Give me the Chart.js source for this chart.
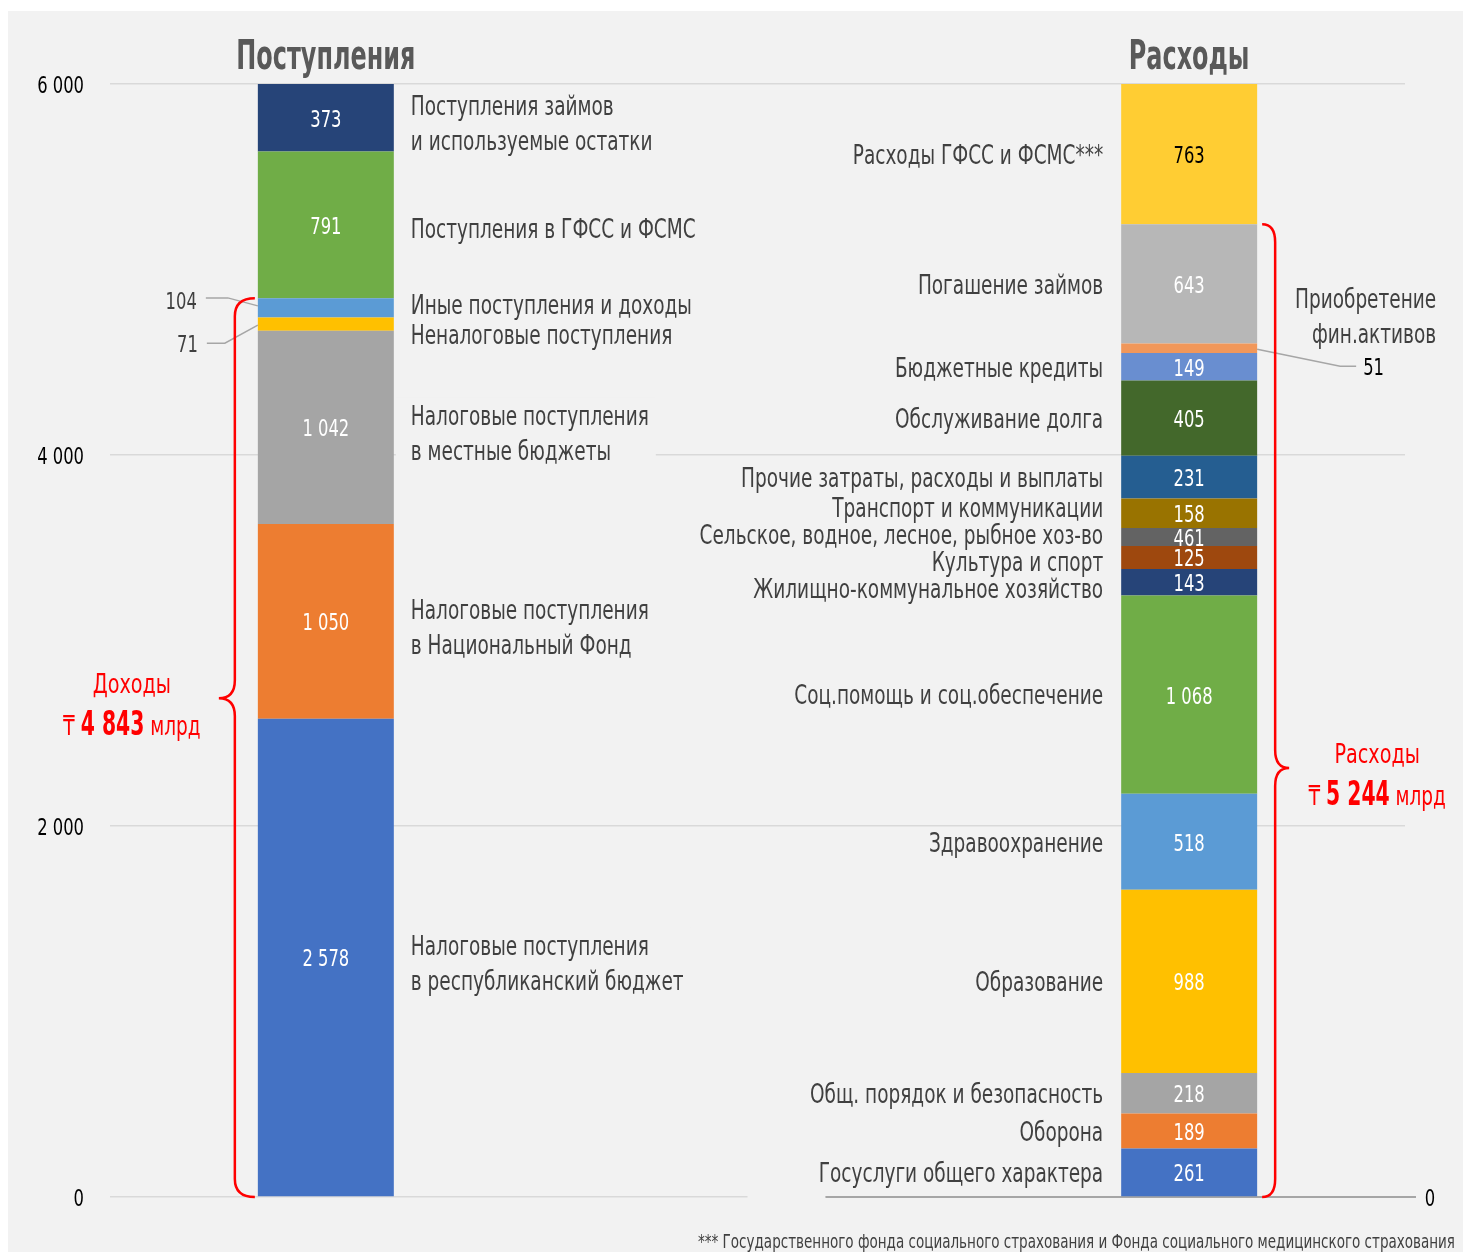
<!DOCTYPE html>
<html lang="ru">
<head>
<meta charset="utf-8">
<title>Поступления и расходы</title>
<script src="https://cdn.jsdelivr.net/npm/chart.js@4.4.0/dist/chart.umd.min.js"></script>
<style>
  html, body { margin: 0; padding: 0; background: #ffffff; }
  #wrap { width: 1464px; height: 1252px; }
</style>
</head>
<body>
<div id="wrap"><canvas id="budget-chart" width="1464" height="1252"></canvas></div>
<script>
// Chart data (values in billions of tenge)
const categories = ['Поступления', '', 'Расходы'];

const incomeNames = [
  'Налоговые поступления\nв республиканский бюджет',
  'Налоговые поступления\nв Национальный Фонд',
  'Налоговые поступления\nв местные бюджеты',
  'Неналоговые поступления',
  'Иные поступления и доходы',
  'Поступления в ГФСС и ФСМС',
  'Поступления займов\nи используемые остатки'
];
const incomeValues = [2578, 1050, 1042, 71, 104, 791, 373];
const incomeColors = ['#4472c4', '#ed7d31', '#a5a5a5', '#ffc000', '#5b9bd5', '#70ad47', '#264478'];

const spendNames = [
  'Госуслуги общего характера',
  'Оборона',
  'Общ. порядок и безопасность',
  'Образование',
  'Здравоохранение',
  'Соц.помощь и соц.обеспечение',
  'Жилищно-коммунальное хозяйство',
  'Культура и спорт',
  'Сельское, водное, лесное, рыбное хоз-во',
  'Транспорт и коммуникации',
  'Прочие затраты, расходы и выплаты',
  'Обслуживание долга',
  'Бюджетные кредиты',
  'Приобретение\nфин.активов',
  'Погашение займов',
  'Расходы ГФСС и ФСМС***'
];
const spendValues = [261, 189, 218, 988, 518, 1068, 143, 125, 97, 158, 231, 405, 149, 51, 643, 763];
const spendValueLabels = ['261', '189', '218', '988', '518', '1 068', '143', '125', '461', '158', '231', '405', '149', '51', '643', '763'];
const spendColors = ['#4472c4', '#ed7d31', '#a5a5a5', '#ffc000', '#5b9bd5', '#70ad47', '#264478', '#9e480e',
  '#636363', '#997300', '#255e91', '#43682b', '#698ed0', '#f1975a', '#b7b7b7', '#ffcd33'];

const yTicks = [0, 2000, 4000, 6000];
const incomeTotal = 4843;   // Доходы (без займов и ГФСС)
const spendTotal = 5244;    // Расходы (без ГФСС и ФСМС)
const footnote = '*** Государственного фонда социального страхования и Фонда социального медицинского страхования';

const FONT = '"DejaVu Sans Condensed", "DejaVu Sans", sans-serif';
const PANEL = '#f2f2f2';
const TEXT = '#404040';
const RED = '#ff0000';

function fmt(v) {
  return String(v).replace(/\B(?=(\d{3})+(?!\d))/g, ' ');
}
function font(size, weight) {
  return (weight || 'normal') + ' ' + size + 'px ' + FONT;
}

// The original uses a narrow DIN-like face: squeeze text horizontally to match its widths
const probe = document.createElement('canvas').getContext('2d');
probe.font = font(26);
const SX = 238 / probe.measureText('Налоговые поступления').width;
probe.font = font(40, 'bold');
const SXB = 179 / probe.measureText('Поступления').width;

function textWidth(ctx, str, size, weight) {
  ctx.save();
  ctx.font = font(size, weight);
  const w = ctx.measureText(str).width * (weight === 'bold' ? SXB : SX);
  ctx.restore();
  return w;
}

function text(ctx, str, x, y, o) {
  ctx.save();
  ctx.font = font(o.size, o.weight);
  ctx.fillStyle = o.color || TEXT;
  ctx.textAlign = o.align || 'left';
  ctx.textBaseline = o.baseline || 'middle';
  ctx.translate(x, y + (ctx.textBaseline === 'middle' ? 3 : 0));
  ctx.scale(o.weight === 'bold' ? SXB : SX, 1);
  ctx.fillText(str, 0, 0);
  ctx.restore();
}

// Build datasets: income stacks on the first category, spending on the third
const datasets = [];
incomeValues.forEach((v, i) => {
  datasets.push({ label: incomeNames[i], data: [v, null, null], backgroundColor: incomeColors[i], side: 'income', idx: i });
});
spendValues.forEach((v, i) => {
  datasets.push({ label: spendNames[i], data: [null, null, v], backgroundColor: spendColors[i], side: 'spend', idx: i });
});

// Geometry of each stacked segment
function segments(chart, side) {
  const out = [];
  const area = chart.chartArea;
  chart.data.datasets.forEach((ds, di) => {
    if (ds.side !== side) return;
    const el = chart.getDatasetMeta(di).data[side === 'income' ? 0 : 2];
    const top = Math.max(el.y, area.top);
    out.push({ idx: ds.idx, x: el.x, w: el.width, top: top, bottom: el.base, cy: (top + el.base) / 2 });
  });
  return out;
}

// Push overlapping labels apart
function spread(items) {
  items.sort((a, b) => b.y - a.y);
  for (let k = 0; k < 80; k++) {
    for (let i = 1; i < items.length; i++) {
      const a = items[i - 1], b = items[i];
      const need = (a.h + b.h) / 2;
      const d = a.y - b.y;
      if (d < need) {
        const m = (need - d) / 2;
        a.y += m;
        b.y -= m;
      }
    }
  }
}

function brace(ctx, xEnd, xLine, xTip, yTop, yBot, yTip) {
  const r = 18;
  ctx.beginPath();
  ctx.moveTo(xEnd, yTop);
  ctx.quadraticCurveTo(xLine, yTop, xLine, yTop + r);
  ctx.lineTo(xLine, yTip - r);
  ctx.quadraticCurveTo(xLine, yTip, xTip, yTip);
  ctx.quadraticCurveTo(xLine, yTip, xLine, yTip + r);
  ctx.lineTo(xLine, yBot - r);
  ctx.quadraticCurveTo(xLine, yBot, xEnd, yBot);
  ctx.stroke();
}

function totalText(ctx, cx, yTip, title, total) {
  text(ctx, title, cx, yTip - 5, { size: 27, color: RED, align: 'center', baseline: 'alphabetic' });
  const parts = [['₸ ', 26, 'normal'], [fmt(total), 34, 'bold'], [' млрд', 26, 'normal']];
  let w = 0;
  parts.forEach(p => { w += textWidth(ctx, p[0], p[1], p[2]); });
  let x = cx - w / 2;
  parts.forEach(p => {
    text(ctx, p[0], x, yTip + 37, { size: p[1], weight: p[2], color: RED, baseline: 'alphabetic' });
    x += textWidth(ctx, p[0], p[1], p[2]);
  });
}

function leader(ctx, pts) {
  ctx.beginPath();
  ctx.moveTo(pts[0][0], pts[0][1]);
  for (let i = 1; i < pts.length; i++) ctx.lineTo(pts[i][0], pts[i][1]);
  ctx.stroke();
}

const annotate = {
  id: 'annotate',
  beforeDraw(chart) {
    const ctx = chart.ctx;
    ctx.save();
    ctx.fillStyle = '#ffffff';
    ctx.fillRect(0, 0, chart.width, chart.height);
    ctx.fillStyle = PANEL;
    ctx.fillRect(8, 11, chart.width - 9, chart.height - 11);
    ctx.restore();
  },
  beforeDatasetsDraw(chart) {
    const ctx = chart.ctx;
    const area = chart.chartArea;
    const mid = chart.scales.x.getPixelForValue(1);
    ctx.save();
    ctx.fillStyle = PANEL;
    ctx.fillRect(mid - 10, area.bottom - 3, 78, 6);
    ctx.strokeStyle = '#a6a6a6';
    ctx.lineWidth = 2;
    ctx.beginPath();
    ctx.moveTo(mid + 68, area.bottom);
    ctx.lineTo(area.right + 11, area.bottom);
    ctx.stroke();
    ctx.restore();
  },
  afterDatasetsDraw(chart) {
    const ctx = chart.ctx;
    const area = chart.chartArea;
    const y = chart.scales.y;
    const inc = segments(chart, 'income');
    const spd = segments(chart, 'spend');
    const incLeft = inc[0].x - inc[0].w / 2, incRight = inc[0].x + inc[0].w / 2;
    const spdLeft = spd[0].x - spd[0].w / 2, spdRight = spd[0].x + spd[0].w / 2;
    ctx.save();

    // y tick labels
    yTicks.forEach(v => {
      text(ctx, fmt(v), area.left - 26, y.getPixelForValue(v), { size: 23, color: '#000000', align: 'right' });
    });

    // column titles
    text(ctx, categories[0], inc[0].x, 69, { size: 40, weight: 'bold', color: '#595959', align: 'center', baseline: 'alphabetic' });
    text(ctx, categories[2], spd[0].x, 69, { size: 40, weight: 'bold', color: '#595959', align: 'center', baseline: 'alphabetic' });

    // values inside bars
    inc.forEach(s => {
      if (s.idx === 3 || s.idx === 4) return;
      text(ctx, fmt(incomeValues[s.idx]), s.x, s.cy, { size: 23, color: '#ffffff', align: 'center' });
    });
    spd.forEach(s => {
      if (s.idx === 13) return;
      text(ctx, spendValueLabels[s.idx], s.x, s.cy, { size: 23, color: s.idx === 15 ? '#000000' : '#ffffff', align: 'center' });
    });

    // series names
    const lh = 35;
    const incItems = inc.map(s => {
      const lines = incomeNames[s.idx].split('\n');
      const multi = lines.length > 1;
      return { lines: lines, y: s.cy + (multi ? 5 : 3), h: multi ? lines.length * lh : 30 };
    });
    spread(incItems);
    incItems.forEach(it => {
      let wMax = 0;
      it.lines.forEach(l => { wMax = Math.max(wMax, textWidth(ctx, l, 26)); });
      ctx.fillStyle = PANEL;
      ctx.fillRect(incRight + 2, it.y - it.lines.length * lh / 2, wMax + 22, it.lines.length * lh);
      it.lines.forEach((l, k) => {
        text(ctx, l, incRight + 17, it.y + (k - (it.lines.length - 1) / 2) * lh, { size: 26 });
      });
    });

    const spdItems = spd.filter(s => s.idx !== 13).map(s => {
      return { lines: [spendNames[s.idx]], y: s.cy, h: 27 };
    });
    spread(spdItems);
    spdItems.forEach(it => text(ctx, it.lines[0], spdLeft - 18, it.y, { size: 26, align: 'right' }));

    // outside labels with leader lines
    ctx.strokeStyle = '#a6a6a6';
    ctx.lineWidth = 1.5;
    const s104 = inc.find(s => s.idx === 4);
    const s71 = inc.find(s => s.idx === 3);
    const s51 = spd.find(s => s.idx === 13);
    leader(ctx, [[incLeft, s104.cy - 2], [incLeft - 30, s104.cy - 10], [incLeft - 52, s104.cy - 10]]);
    leader(ctx, [[incLeft, s71.cy + 1], [incLeft - 33, s71.cy + 19], [incLeft - 51, s71.cy + 19]]);
    leader(ctx, [[spdRight, s51.cy + 1], [spdRight + 83, s51.cy + 18], [spdRight + 99, s51.cy + 18]]);
    text(ctx, fmt(incomeValues[4]), incLeft - 61, s104.cy - 8, { size: 23, align: 'right' });
    text(ctx, fmt(incomeValues[3]), incLeft - 60, s71.cy + 19, { size: 23, align: 'right' });
    text(ctx, spendValueLabels[13], spdRight + 106, s51.cy + 18, { size: 23, color: '#000000' });
    spendNames[13].split('\n').forEach((l, k) => {
      text(ctx, l, spdRight + 179, s51.cy - 50 + k * lh, { size: 26, align: 'right' });
    });

    // braces with totals
    let incSum = 0;
    for (let i = 0; i <= 4; i++) incSum += incomeValues[i];
    let spdSum = 0;
    for (let i = 0; i <= 14; i++) spdSum += spendValues[i];
    ctx.strokeStyle = RED;
    ctx.lineWidth = 2.5;
    const lTop = y.getPixelForValue(incSum), lTip = lTop + 0.445 * (area.bottom - lTop);
    brace(ctx, incLeft - 3, incLeft - 23, incLeft - 39, lTop, area.bottom, lTip);
    const rTop = y.getPixelForValue(spdSum), rTip = rTop + 0.559 * (area.bottom - rTop);
    brace(ctx, spdRight + 5, spdRight + 18, spdRight + 32, rTop, area.bottom, rTip);
    totalText(ctx, incLeft - 126, lTip, 'Доходы', incomeTotal);
    totalText(ctx, spdRight + 120, rTip, 'Расходы', spendTotal);

    // right-hand zero and footnote
    text(ctx, '0', area.right + 25, area.bottom, { size: 23, color: '#000000', align: 'center' });
    text(ctx, footnote, 1455, 1248, { size: 19, align: 'right', baseline: 'alphabetic' });
    ctx.restore();
  }
};

Chart.defaults.font.family = FONT;

new Chart(document.getElementById('budget-chart'), {
  type: 'bar',
  data: { labels: categories, datasets: datasets },
  options: {
    responsive: false,
    animation: false,
    layout: { padding: { left: 10, right: 59, top: 84, bottom: 55 } },
    plugins: { legend: { display: false }, tooltip: { enabled: false } },
    datasets: { bar: { categoryPercentage: 1, barPercentage: 0.315, borderWidth: 0 } },
    scales: {
      x: { display: false, stacked: true },
      y: {
        stacked: true,
        min: 0,
        max: 6000,
        afterBuildTicks: s => { s.ticks = yTicks.map(v => ({ value: v })); },
        afterFit: s => { s.width = 100; },
        grid: { color: '#d9d9d9', lineWidth: 1.5, drawTicks: false },
        border: { display: false },
        ticks: { display: false }
      }
    }
  },
  plugins: [annotate]
});
</script>
</body>
</html>
